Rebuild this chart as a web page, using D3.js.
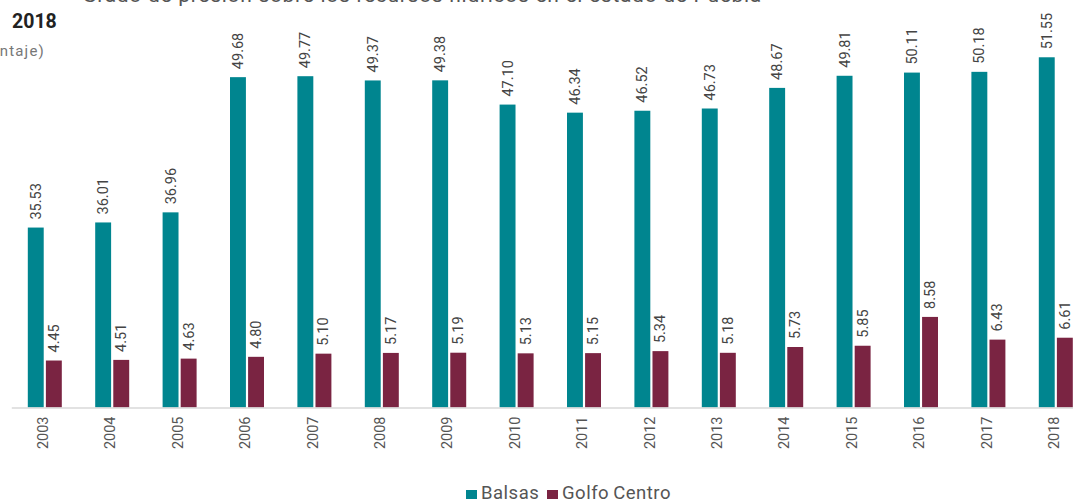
<!DOCTYPE html>
<html>
<head>
<meta charset="utf-8">
<script src="https://cdn.jsdelivr.net/npm/d3@7"></script>
<style>
  html, body { margin: 0; padding: 0; background: #fff; }
  svg { display: block; font-family: Roboto, "Noto Sans", sans-serif; }
</style>
</head>
<body>
<div id="chart"></div>
<script>
const years  = ['2003','2004','2005','2006','2007','2008','2009','2010','2011','2012','2013','2014','2015','2016','2017','2018'];
const balsas = [35.53, 36.01, 36.96, 49.68, 49.77, 49.37, 49.38, 47.10, 46.34, 46.52, 46.73, 48.67, 49.81, 50.11, 50.18, 51.55];
const golfo  = [4.45, 4.51, 4.63, 4.80, 5.10, 5.17, 5.19, 5.13, 5.15, 5.34, 5.18, 5.73, 5.85, 8.58, 6.43, 6.61];
const seriesNames = ['Balsas', 'Golfo Centro'];
const colors = ['#00858f', '#7a2442'];

const W = 1073, H = 500;
const svg = d3.select('#chart').append('svg')
  .attr('width', W).attr('height', H);

// title block (clipped at top like the source)
svg.append('text')
  .attr('x', 762).attr('y', 2)
  .attr('text-anchor', 'end')
  .attr('font-size', 21).attr('letter-spacing', 0.7).attr('fill', '#555')
  .text('Grado de presión sobre los recursos hídricos en el estado de Puebla');
svg.append('text')
  .attr('x', 12).attr('y', 28)
  .attr('font-size', 19.5).attr('font-weight', 700).attr('fill', '#222')
  .text('2018');
svg.append('text')
  .attr('x', 45).attr('y', 56)
  .attr('text-anchor', 'end')
  .attr('font-size', 15).attr('letter-spacing', 1.2).attr('fill', '#777')
  .text('(porcentaje)');

// scales: two hidden value axes
const baseY = 407.5, topY = 47.5;
const x = d3.scaleBand().domain(years).range([11.3, 11.3 + 67.4 * years.length]);
const xSub = d3.scaleBand().domain(seriesNames).range([16.5, 50.5]).paddingInner(0.12);
const yB = d3.scaleLinear().domain([18.6, 52.47]).range([baseY, topY]);
const yG = d3.scaleLinear().domain([0, 34.1]).range([baseY, topY]);

const rows = years.map((yr, i) => ({ yr, b: balsas[i], g: golfo[i] }));

const g = svg.append('g');
const groups = g.selectAll('g.yr').data(rows).enter().append('g')
  .attr('class', 'yr')
  .attr('transform', d => `translate(${x(d.yr)},0)`);

const defs = [
  { name: 'Balsas', val: d => d.b, y: yB, c: colors[0] },
  { name: 'Golfo Centro', val: d => d.g, y: yG, c: colors[1] }
];

defs.forEach(s => {
  groups.append('rect')
    .attr('x', xSub(s.name))
    .attr('width', xSub.bandwidth())
    .attr('y', d => s.y(s.val(d)))
    .attr('height', d => baseY - s.y(s.val(d)))
    .attr('fill', s.c);
  groups.append('text')
    .attr('transform', d => `translate(${xSub(s.name) + xSub.bandwidth() / 2 + 5},${s.y(s.val(d)) - 8}) rotate(-90)`)
    .attr('font-size', 14.5).attr('fill', '#444')
    .text(d => s.val(d).toFixed(2));
});

// baseline + year labels
const ax = svg.append('g')
  .attr('transform', `translate(0,${baseY})`)
  .call(d3.axisBottom(x).tickSize(0).tickPadding(0));
ax.select('.domain').attr('stroke', '#d9d9d9').attr('stroke-width', 1.5);
ax.selectAll('.tick text')
  .attr('font-family', 'Roboto, sans-serif')
  .attr('font-size', 14.5).attr('fill', '#555')
  .attr('text-anchor', 'end')
  .attr('transform', 'translate(-2,9) rotate(-90)')
  .attr('dy', '0.35em').attr('y', 0);

// legend
const leg = svg.append('g').attr('transform', 'translate(466,488)');
const legX = [0, 81];
seriesNames.forEach((n, i) => {
  leg.append('rect').attr('x', legX[i]).attr('y', 2).attr('width', 11).attr('height', 9).attr('fill', colors[i]);
  leg.append('text').attr('x', legX[i] + 15).attr('y', 11)
    .attr('font-size', 18.5).attr('letter-spacing', 0.5).attr('fill', '#555').attr('word-spacing', -1)
    .text(n);
});
</script>
</body>
</html>
